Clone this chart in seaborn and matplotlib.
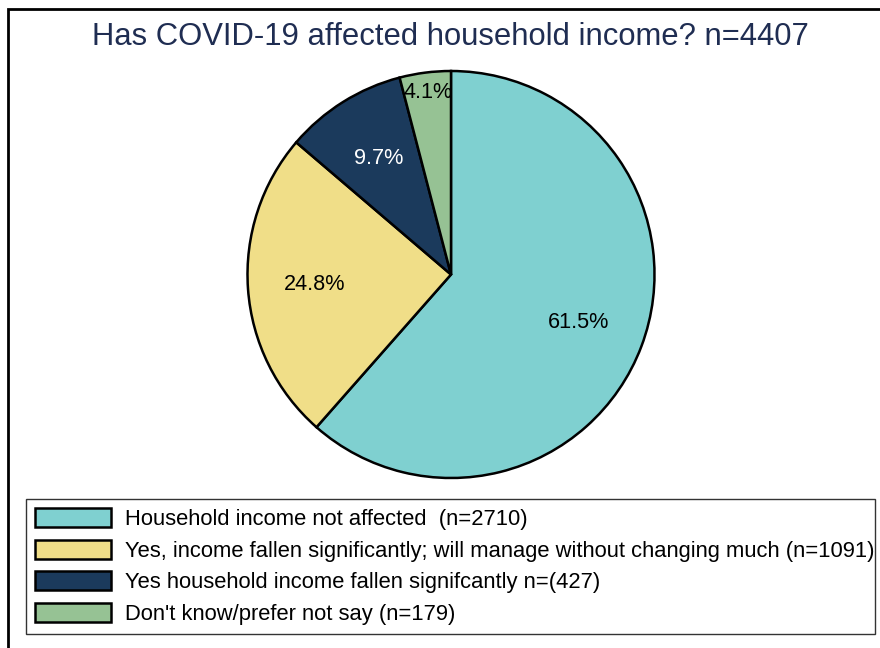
import numpy as np
import matplotlib
matplotlib.use("Agg")
import matplotlib.pyplot as plt
from matplotlib.patches import Rectangle
import seaborn as sns

# ---- data ----
categories = [
    "Household income not affected  (n=2710)",
    "Yes, income fallen significantly; will manage without changing much (n=1091)",
    "Yes household income fallen signifcantly n=(427)",
    "Don't know/prefer not say (n=179)",
]
counts = [2710, 1091, 427, 179]
title = "Has COVID-19 affected household income? n=4407"
colors_hex = ["#7fd0d0", "#f0de88", "#1b3a5c", "#96c294"]
label_colors = ["black", "black", "white", "black"]

sns.set_theme(style="white")
plt.rcParams["font.family"] = ["Liberation Sans", "DejaVu Sans"]
plt.rcParams["text.color"] = "black"

W, H = 880, 648
fig = plt.figure(figsize=(W / 100, H / 100), dpi=100)
fig.patch.set_facecolor("white")

# pie axes placed in pixel geometry
cx, cy, r = 451, 274.5, 203.5
ax = fig.add_axes([(cx - r) / W, (H - cy - r) / H, 2 * r / W, 2 * r / H])
palette = sns.color_palette(colors_hex)
wedges, texts, autotexts = ax.pie(
    counts, colors=palette, startangle=90, counterclock=False,
    autopct="%1.1f%%", pctdistance=0.67,
    wedgeprops=dict(edgecolor="black", linewidth=1.8),
    textprops=dict(fontsize=15.6),
)
ax.set_xlim(-1, 1)
ax.set_ylim(-1, 1)
ax.set_aspect("equal")
ax.axis("off")
for t, c in zip(autotexts, label_colors):
    t.set_color(c)
# smallest slice label sits further out
w = wedges[3]
ang = np.deg2rad((w.theta1 + w.theta2) / 2)
autotexts[3].set_position((0.9 * np.cos(ang), 0.9 * np.sin(ang)))

fig.text(450 / W, 1 - 37 / H, title, ha="center", va="center",
         fontsize=22.3, color="#1f2d52")

leg = fig.legend(
    wedges, categories, loc="lower left",
    bbox_to_anchor=(26 / W, 1 - 634 / H, 849 / W, 133 / H),
    mode="expand", ncol=1, fontsize=15.8,
    handlelength=3.45, handleheight=0.95, handletextpad=0.62,
    labelspacing=0.43, borderpad=0.42, borderaxespad=0,
    frameon=True, fancybox=False, framealpha=1,
)
leg.get_frame().set_edgecolor("#333333")
leg.get_frame().set_linewidth(1.0)
for t in leg.get_texts():
    t.set_color("black")

fig.add_artist(Rectangle((8 / W, -0.1), 1.2, 1 - 9 / H + 0.1, fill=False,
                         lw=2, edgecolor="black", transform=fig.transFigure))

fig.savefig("out.png", dpi=100)
